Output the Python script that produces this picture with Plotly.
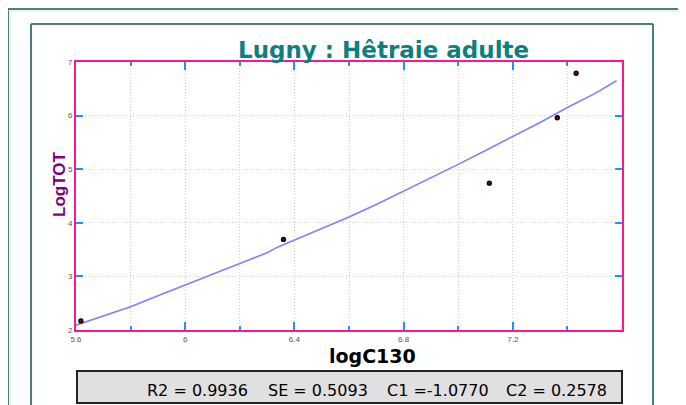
import plotly.graph_objects as go

# ---- data ----
obs_x = [5.618, 6.36, 7.114, 7.363, 7.432]
obs_y = [2.17, 3.69, 4.74, 5.96, 6.79]

fit_x = [5.6, 5.7, 5.8, 5.9, 6.0, 6.1, 6.2, 6.3, 6.34, 6.4, 6.5, 6.6, 6.7, 6.8, 6.9, 7.0, 7.1, 7.2, 7.3, 7.4, 7.5, 7.58]
fit_y = [2.09, 2.26, 2.435, 2.64, 2.84, 3.04, 3.24, 3.44, 3.55, 3.68, 3.89, 4.11, 4.34, 4.59, 4.83, 5.09, 5.35, 5.61, 5.87, 6.15, 6.41, 6.65]

x_tickvals = [5.6, 6.0, 6.4, 6.8, 7.2]
x_ticktext = ["5.6", "6", "6.4", "6.8", "7.2"]
y_tickvals = [2, 3, 4, 5, 6, 7]
y_ticktext = ["2", "3", "4", "5", "6", "7"]

title_text = "Lugny : Hêtraie adulte"
xlabel = "logC130"
ylabel = "LogTOT"
stats = ["R2 = 0.9936", "SE = 0.5093", "C1 =-1.0770", "C2 = 0.2578"]
stats_x = [145, 266, 385, 504]

# ---- layout geometry (pixels in the 686x405 window; page body has an 8px margin) ----
OFF = 8
W, H = 686 - OFF, 405 - OFF
L, T = 76 - OFF, 62 - OFF
R = W - (622 - OFF)
B = H - (330 - OFF)
PW, PH = W - L - R, H - T - B


def px(x):
    return (x - OFF - L) / PW


def py(y):
    return 1 - (y - OFF - T) / PH


PINK = "#FF1493"
BLUE = "#1E90FF"
FRAME = "#4A7F7F"
GRID = "#CFCFCF"

fig = go.Figure()
fig.add_trace(go.Scatter(x=fit_x, y=fit_y, mode="lines",
                         line=dict(color="#8080FF", width=1.6),
                         showlegend=False, hoverinfo="skip"))
fig.add_trace(go.Scatter(x=obs_x, y=obs_y, mode="markers",
                         marker=dict(color="#8B0000", size=4,
                                     line=dict(color="black", width=1.3)),
                         showlegend=False))

tickfont = dict(family="Liberation Sans, Arial, sans-serif", size=8, color="#555555")

fig.update_xaxes(range=[5.6, 7.6], tickvals=x_tickvals, ticktext=x_ticktext,
                 ticks="inside", ticklen=8, tickwidth=2, tickcolor=BLUE,
                 showline=True, linecolor=PINK, linewidth=2, mirror="ticks",
                 showgrid=True, gridcolor=GRID, griddash="1px,2px", gridwidth=1,
                 zeroline=False, tickfont=tickfont,
                 minor=dict(dtick=0.2, tick0=5.6, ticks="inside", ticklen=4,
                            tickwidth=2, tickcolor=BLUE, showgrid=True,
                            gridcolor=GRID, griddash="1px,2px", gridwidth=1))
fig.update_yaxes(range=[2, 7], tickvals=y_tickvals, ticktext=y_ticktext,
                 ticks="inside", ticklen=7, tickwidth=2, tickcolor=BLUE,
                 showline=True, linecolor=PINK, linewidth=2, mirror="ticks",
                 showgrid=True, gridcolor=GRID, griddash="1px,2px", gridwidth=1,
                 zeroline=False, tickfont=tickfont)

shapes = [
    # outer frame
    dict(type="line", xref="paper", yref="paper", x0=px(8), y0=py(9), x1=px(700), y1=py(9),
         line=dict(color=FRAME, width=2)),
    dict(type="line", xref="paper", yref="paper", x0=px(8), y0=py(9), x1=px(8), y1=py(420),
         line=dict(color=FRAME, width=2)),
    dict(type="line", xref="paper", yref="paper", x0=px(10), y0=py(11), x1=px(700), y1=py(11),
         line=dict(color="#D6E8E8", width=1)),
    dict(type="line", xref="paper", yref="paper", x0=px(10), y0=py(11), x1=px(10), y1=py(420),
         line=dict(color="#D6E8E8", width=1)),
    # inner frame
    dict(type="line", xref="paper", yref="paper", x0=px(31), y0=py(24), x1=px(653), y1=py(24),
         line=dict(color=FRAME, width=2)),
    dict(type="line", xref="paper", yref="paper", x0=px(31), y0=py(24), x1=px(31), y1=py(420),
         line=dict(color=FRAME, width=2)),
    dict(type="line", xref="paper", yref="paper", x0=px(653), y0=py(24), x1=px(653), y1=py(420),
         line=dict(color=FRAME, width=2)),
    # stats box
    dict(type="rect", xref="paper", yref="paper", x0=px(77), y0=py(371), x1=px(622), y1=py(403),
         fillcolor="#E0E0E0", line=dict(color="#222222", width=2), layer="below"),
]

annotations = [
    dict(text="<b>" + title_text + "</b>", xref="paper", yref="paper",
         x=px(383.5), y=py(50), xanchor="center", yanchor="middle", showarrow=False,
         font=dict(family="DejaVu Sans, sans-serif", size=23, color="#0E7F7F")),
    dict(text="<b>" + xlabel + "</b>", xref="paper", yref="paper",
         x=px(372), y=py(356), xanchor="center", yanchor="middle", showarrow=False,
         font=dict(family="DejaVu Sans, sans-serif", size=19, color="black")),
    dict(text="<b>" + ylabel + "</b>", xref="paper", yref="paper",
         x=px(59), y=py(185), xanchor="center", yanchor="middle", showarrow=False,
         textangle=-90,
         font=dict(family="Liberation Sans, Arial, sans-serif", size=17, color="#800080")),
]
for s, sx in zip(stats, stats_x):
    annotations.append(dict(text=s, xref="paper", yref="paper",
                            x=px(sx), y=py(390), xanchor="left", yanchor="middle",
                            showarrow=False,
                            font=dict(family="DejaVu Sans, sans-serif", size=16, color="black")))

fig.update_layout(width=W, height=H, autosize=False,
                  margin=dict(l=L, r=R, t=T, b=B, pad=0),
                  paper_bgcolor="white", plot_bgcolor="white",
                  shapes=shapes, annotations=annotations, showlegend=False)

fig.write_html("out.html")
